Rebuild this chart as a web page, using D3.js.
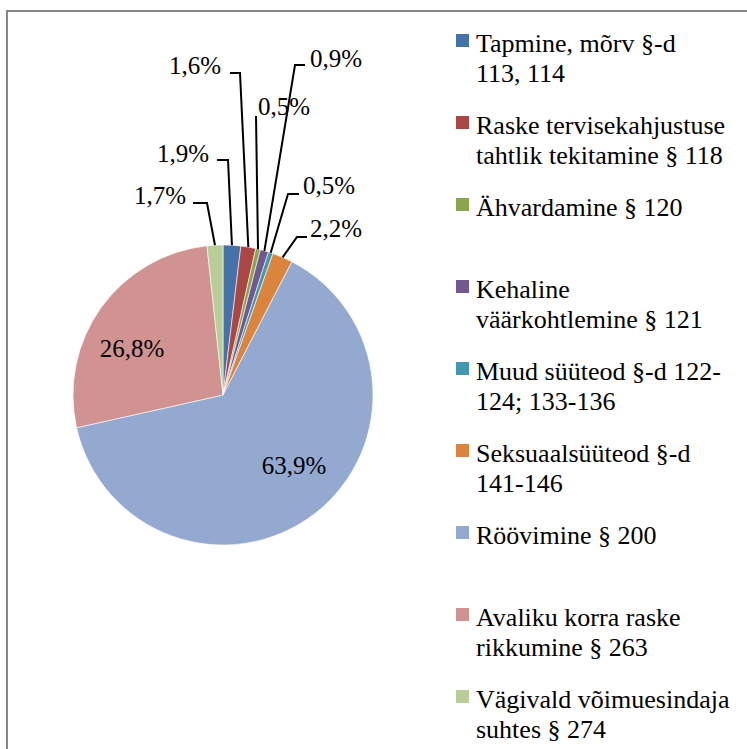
<!DOCTYPE html>
<html><head><meta charset="utf-8">
<script src="https://cdn.jsdelivr.net/npm/d3@7"></script>
<style>
html,body{margin:0;padding:0;background:#fff;}
svg{display:block;}
text{font-family:"Times New Roman","Liberation Serif",Tinos,"DejaVu Serif",serif;}
</style></head>
<body>
<script>
// Data
const categories = [
  ["Tapmine, mõrv §-d", "113, 114"],
  ["Raske tervisekahjustuse", "tahtlik tekitamine § 118"],
  ["Ähvardamine § 120"],
  ["Kehaline", "väärkohtlemine § 121"],
  ["Muud süüteod §-d 122-", "124; 133-136"],
  ["Seksuaalsüüteod §-d", "141-146"],
  ["Röövimine § 200"],
  ["Avaliku korra raske", "rikkumine § 263"],
  ["Vägivald võimuesindaja", "suhtes § 274"]
];
const values = [1.9, 1.6, 0.5, 0.9, 0.5, 2.2, 63.9, 26.8, 1.7];
const valueLabels = ["1,9%", "1,6%", "0,5%", "0,9%", "0,5%", "2,2%", "63,9%", "26,8%", "1,7%"];
const colors = ["#4572A7", "#AA4643", "#89A54E", "#71588F", "#4198AF", "#DB843D", "#93A9CF", "#D19392", "#B9CD96"];

// Label layout (text anchor point, leader elbow); no elbow = inside label
const labelLayout = [
  {tx: 209, ty: 162, anchor: "end",   ex: 228, hx: 217, ly: 160},
  {tx: 221, ty: 74,  anchor: "end",   ex: 240, hx: 230, ly: 73},
  {tx: 258, ty: 115, anchor: "start", ex: 256, hx: 256, ly: 116},
  {tx: 310, ty: 67,  anchor: "start", ex: 295, hx: 305, ly: 65},
  {tx: 303, ty: 194, anchor: "start", ex: 288, hx: 299, ly: 194},
  {tx: 310, ty: 237, anchor: "start", ex: 297, hx: 307, ly: 237},
  {tx: 294, ty: 474, anchor: "middle"},
  {tx: 132, ty: 357, anchor: "middle"},
  {tx: 186, ty: 204, anchor: "end",   ex: 207, hx: 193, ly: 203}
];

const W = 747, H = 749;
const cx = 223, cy = 395, R = 150;
const FONT = '"Times New Roman","Liberation Serif",Tinos,"DejaVu Serif",serif';

const svg = d3.select("body").append("svg").attr("width", W).attr("height", H);

// chart border
svg.append("rect").attr("x", 7).attr("y", 11).attr("width", W + 20).attr("height", H + 20)
  .attr("fill", "#fff").attr("stroke", "#868686").attr("stroke-width", 2);

const pie = d3.pie().sort(null).value(d => d)(values);
const arc = d3.arc().innerRadius(0).outerRadius(R);

const g = svg.append("g").attr("transform", `translate(${cx},${cy})`);
g.selectAll("path.slice").data(pie).enter().append("path")
  .attr("class", "slice")
  .attr("d", arc)
  .attr("fill", (d, i) => colors[i])
  .attr("stroke", "#fff").attr("stroke-width", 0.6);

// leader lines
pie.forEach((d, i) => {
  const L = labelLayout[i];
  if (L.ex === undefined) return;
  const a = (d.startAngle + d.endAngle) / 2;
  const p0 = [cx + R * Math.sin(a), cy - R * Math.cos(a)];
  const pts = [p0, [L.ex, L.ly], [L.hx, L.ly]];
  svg.append("path")
    .attr("d", d3.line()(pts))
    .attr("fill", "none").attr("stroke", "#000").attr("stroke-width", 2);
});

// labels
svg.selectAll("text.lbl").data(pie).enter().append("text")
  .attr("class", "lbl")
  .attr("x", (d, i) => labelLayout[i].tx)
  .attr("y", (d, i) => labelLayout[i].ty)
  .attr("text-anchor", (d, i) => labelLayout[i].anchor)
  .attr("font-family", FONT)
  .attr("font-size", 25)
  .attr("fill", "#000")
  .text((d, i) => valueLabels[i]);

// legend
const legendY = d3.scaleLinear().domain([0, 8]).range([52, 708]);
const leg = svg.selectAll("g.leg").data(categories).enter().append("g")
  .attr("class", "leg")
  .attr("transform", (d, i) => `translate(456,${legendY(i)})`);
leg.append("rect").attr("x", 0).attr("y", -18).attr("width", 13).attr("height", 13)
  .attr("fill", (d, i) => colors[i]);
leg.each(function(lines) {
  const t = d3.select(this).append("text").attr("x", 20).attr("y", 0)
    .attr("font-family", FONT)
    .attr("font-size", 26).attr("fill", "#000");
  lines.forEach((ln, j) => {
    t.append("tspan").attr("x", 20).attr("dy", j === 0 ? 0 : 30).text(ln);
  });
});
</script>
</body></html>
